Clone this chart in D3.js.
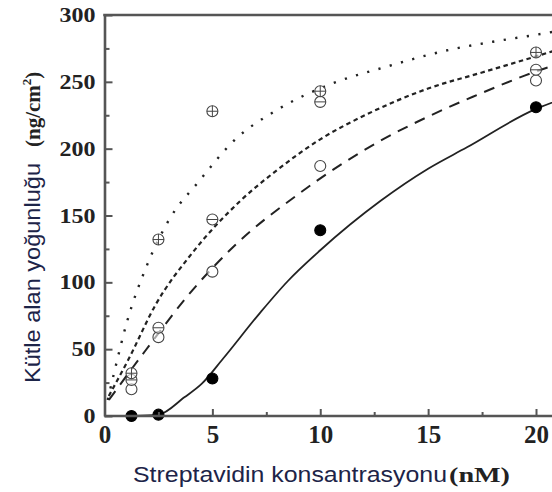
<!DOCTYPE html>
<html>
<head>
<meta charset="utf-8">
<script src="https://cdn.jsdelivr.net/npm/d3@7"></script>
<style>
  html, body { margin: 0; padding: 0; background: #fff; }
  svg { display: block; }
</style>
</head>
<body>
<div id="chart"></div>
<script>
// measured points (x in nM, y in ng/cm2)
const concentrations = [1.25, 2.5, 5, 10, 20];
const filledValues = [0, 1, 28, 139, 231];
const openValues = [20, 59, 108, 187, 251];
const barValues = [27, 66, 147, 235, 259];
const crossValues = [32, 132, 228, 243, 272];

// fitted curves
const solidCurve = [[1.3, 0], [2.5, 1], [3.7, 14], [4.5, 24], [5.5, 43], [7.2, 77], [8.5, 101], [10, 124], [12.8, 161], [15, 185], [16.8, 201], [19.9, 229], [21, 236]];
const longDashCurve = [[0.2, 12], [1.9, 49], [4.07, 94], [6, 127], [9.07, 167], [12.8, 206], [15, 224], [17.1, 239], [20.6, 261], [21, 263]];
const shortDashCurve = [[0.2, 15], [1.1, 42], [2.36, 83], [4.07, 122], [6.3, 161], [8, 184], [10, 207], [12.2, 226], [15, 245], [17.5, 257], [20.6, 272], [21, 274]];
const dottedCurve = [[0.15, 12], [0.5, 36], [1, 68], [2, 114], [3, 147], [4.4, 176], [6, 206], [8, 229], [10.6, 249], [13, 261], [16, 274], [18, 280], [20.3, 286], [21, 288]];

const xTicks = [0, 5, 10, 15, 20];
const xMinor = [2.5, 7.5, 12.5, 17.5, 22.5];
const yTicks = [0, 50, 100, 150, 200, 250, 300];
const yMinor = [25, 75, 125, 175, 225, 275];

const width = 552, height = 492;
const svg = d3.select('#chart').append('svg')
    .attr('width', width)
    .attr('height', height)
    .attr('viewBox', `0 0 ${width} ${height}`);

const x = d3.scaleLinear().domain([0, 20]).range([104.5, 536]);
const y = d3.scaleLinear().domain([0, 300]).range([416, 15]);

const axisColor = '#555';

// curves
const line = d3.line()
    .x(d => x(d[0]))
    .y(d => y(d[1]))
    .curve(d3.curveMonotoneX);

const curves = [
    { pts: solidCurve, dash: null, w: 1.8 },
    { pts: longDashCurve, dash: '11,8', w: 2 },
    { pts: shortDashCurve, dash: '4.5,3.5', w: 2.2 },
    { pts: dottedCurve, dash: '2.2,9.5', w: 2.4 }
];

svg.append('g').selectAll('path')
    .data(curves)
    .join('path')
    .attr('d', d => line(d.pts))
    .attr('fill', 'none')
    .attr('stroke', '#222')
    .attr('stroke-width', d => d.w)
    .attr('stroke-dasharray', d => d.dash);

// markers
const r = 5.5;
const markerGroup = svg.append('g');

const addMarkers = (values, kind) => {
    const g = markerGroup.append('g');
    const pts = concentrations.map((c, i) => [c, values[i]]);
    const m = g.selectAll('g').data(pts).join('g')
        .attr('transform', d => `translate(${x(d[0])},${y(d[1])})`);
    m.append('circle')
        .attr('r', r)
        .attr('fill', kind === 'filled' ? '#000' : '#fff')
        .attr('fill-opacity', kind === 'filled' ? 1 : 0.6)
        .attr('stroke', kind === 'filled' ? '#000' : '#444')
        .attr('stroke-width', 1.1);
    if (kind === 'bar' || kind === 'cross') {
        m.append('line')
            .attr('x1', -r).attr('x2', r)
            .attr('stroke', '#444').attr('stroke-width', 1);
    }
    if (kind === 'cross') {
        m.append('line')
            .attr('y1', -r).attr('y2', r)
            .attr('stroke', '#444').attr('stroke-width', 1);
    }
};

addMarkers(openValues, 'open');
addMarkers(barValues, 'bar');
addMarkers(crossValues, 'cross');
addMarkers(filledValues, 'filled');

// axes
const xAxis = svg.append('g')
    .attr('transform', `translate(0,${y(0)})`)
    .call(d3.axisBottom(x).tickValues(xTicks).tickSizeInner(-7).tickSizeOuter(0).tickPadding(9).tickFormat(d3.format('d')));
const xAxisMinor = svg.append('g')
    .attr('transform', `translate(0,${y(0)})`)
    .call(d3.axisBottom(x).tickValues(xMinor).tickSizeInner(-4).tickSizeOuter(0).tickFormat(''));

const yAxis = svg.append('g')
    .attr('transform', `translate(${x(0)},0)`)
    .call(d3.axisLeft(y).tickValues(yTicks).tickSizeInner(-8).tickSizeOuter(0).tickPadding(9).tickFormat(d3.format('d')));
const yAxisMinor = svg.append('g')
    .attr('transform', `translate(${x(0)},0)`)
    .call(d3.axisLeft(y).tickValues(yMinor).tickSizeInner(-5).tickSizeOuter(0).tickFormat(''));

xAxis.select('.domain').attr('d', `M${x(0)},0H${width + 10}`);

[xAxis, xAxisMinor, yAxis, yAxisMinor].forEach(a => {
    a.select('.domain').attr('stroke', axisColor).attr('stroke-width', 2.6);
    a.selectAll('.tick line').attr('stroke', axisColor).attr('stroke-width', 2);
});
xAxisMinor.select('.domain').remove();
yAxisMinor.select('.domain').remove();

xAxis.selectAll('.tick text')
    .attr('font-family', '"Liberation Serif", "Times New Roman", serif')
    .attr('font-weight', 'bold')
    .attr('font-size', 25)
    .attr('fill', '#222')
    .attr('y', 9)
    .attr('dy', '0.71em');

yAxis.selectAll('.tick text')
    .attr('font-family', '"Liberation Serif", "Times New Roman", serif')
    .attr('font-weight', 'bold')
    .attr('font-size', 24)
    .attr('fill', '#222')
    .attr('transform', 'scale(1,0.86)');

// top frame line
svg.append('line')
    .attr('x1', x(0) - 1.3).attr('x2', width + 10)
    .attr('y1', y(300)).attr('y2', y(300))
    .attr('stroke', axisColor)
    .attr('stroke-width', 2.6);

// x title
const xTitle = svg.append('text')
    .attr('x', 133)
    .attr('y', 482);
xTitle.append('tspan')
    .attr('font-family', '"Liberation Sans", Arial, sans-serif')
    .attr('font-size', 22)
    .attr('fill', '#1d2448')
    .attr('textLength', 314)
    .attr('lengthAdjust', 'spacingAndGlyphs')
    .text('Streptavidin konsantrasyonu');
xTitle.append('tspan')
    .attr('x', 449)
    .attr('font-family', '"Liberation Serif", "Times New Roman", serif')
    .attr('font-weight', 'bold')
    .attr('font-size', 22)
    .attr('fill', '#222')
    .attr('textLength', 61)
    .attr('lengthAdjust', 'spacingAndGlyphs')
    .text('(nM)');

// y title
const yTitle = svg.append('text')
    .attr('transform', 'translate(40,383) rotate(-90)');
yTitle.append('tspan')
    .attr('font-family', '"Liberation Sans", Arial, sans-serif')
    .attr('font-size', 22)
    .attr('fill', '#1d2448')
    .attr('textLength', 220)
    .attr('lengthAdjust', 'spacingAndGlyphs')
    .text('Kütle alan yoğunluğu');
const unit = svg.append('text')
    .attr('transform', 'translate(40,147) rotate(-90)')
    .attr('font-family', '"Liberation Serif", "Times New Roman", serif')
    .attr('font-weight', 'bold')
    .attr('font-size', 21)
    .attr('fill', '#222');
unit.append('tspan').text('(ng/cm');
unit.append('tspan').attr('dy', -9).attr('font-size', 13).text('2');
unit.append('tspan').attr('dy', 9).text(')');
</script>
</body>
</html>
